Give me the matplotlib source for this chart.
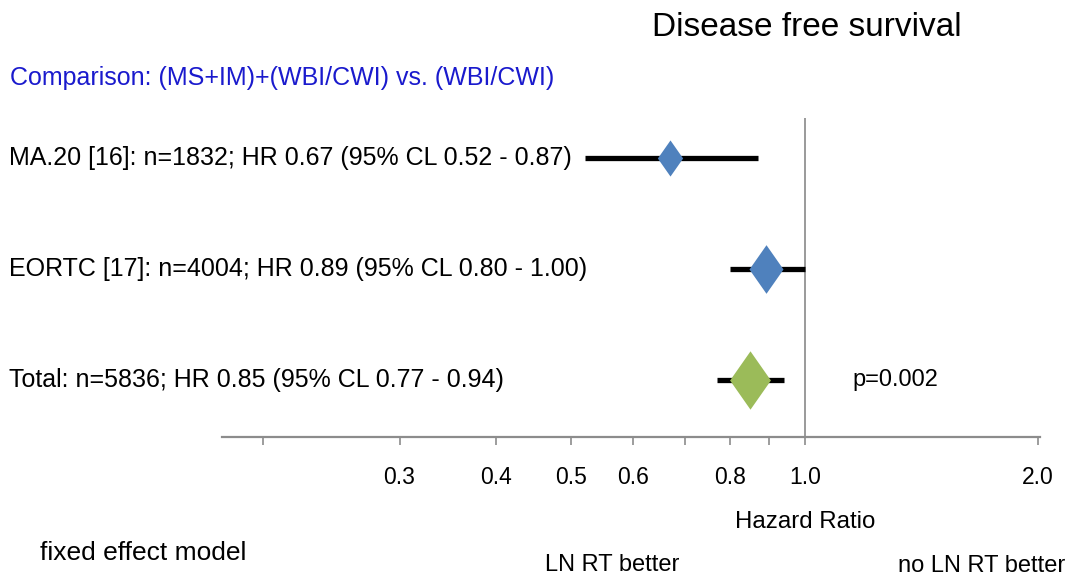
import numpy as np
import matplotlib
matplotlib.use('Agg')
import matplotlib.pyplot as plt
from matplotlib.transforms import blended_transform_factory

plt.rcParams['font.family'] = ['Liberation Sans', 'DejaVu Sans']

# Data
studies   = ['MA.20 [16]', 'EORTC [17]', 'Total']
n_pts     = [1832, 4004, 5836]
hr        = [0.67, 0.89, 0.85]
ci_low    = [0.52, 0.80, 0.77]
ci_high   = [0.87, 1.00, 0.94]
p_total   = '0.002'

tick_vals   = [0.2, 0.3, 0.4, 0.5, 0.6, 0.7, 0.8, 0.9, 1.0, 2.0]
tick_labels = ['', '0.3', '0.4', '0.5', '0.6', '', '0.8', '', '1.0', '2.0']

# Style
W, H = 1071, 582
diamond_h   = [26, 35, 42]          # marker height in pt
diamond_col = ['#4f81bd', '#4f81bd', '#9bbb59']
DIAMOND = [(0, 1), (0.7, 0), (0, -1), (-0.7, 0), (0, 1)]

fig = plt.figure(figsize=(W / 100, H / 100), dpi=100)
fig.patch.set_facecolor('white')

def fx(px):
    return px / W

def fy(py):
    return 1 - py / H

ax = fig.add_axes([fx(222), fy(437), fx(1040) - fx(222), fy(118) - fy(437)])
ax.set_xscale('log')
ax.set_xlim(0.177, 2.012)
ax.set_ylim(-0.514, 2.36)

ypos = np.arange(len(studies))[::-1]   # top row first

for i, y in enumerate(ypos):
    ax.plot([ci_low[i], ci_high[i]], [y, y], color='black', lw=3.8,
            solid_capstyle='butt', zorder=2)
    ax.plot(hr[i], y, marker=DIAMOND, markersize=diamond_h[i],
            color=diamond_col[i], markeredgewidth=0, zorder=3)

ax.axvline(1.0, color='#7f7f7f', lw=1.1, zorder=1)

# axis styling
for s in ['top', 'right', 'left']:
    ax.spines[s].set_visible(False)
ax.spines['bottom'].set_color('#8c8c8c')
ax.spines['bottom'].set_linewidth(1.6)
ax.set_yticks([])
ax.xaxis.set_minor_locator(matplotlib.ticker.NullLocator())
ax.set_xticks(tick_vals)
ax.set_xticklabels(tick_labels, fontsize=16.5)
ax.tick_params(axis='x', direction='out', length=6, width=1.2,
               color='#8c8c8c', pad=15)

# row labels
trans = blended_transform_factory(fig.transFigure, ax.transData)
for i, y in enumerate(ypos):
    if studies[i] == 'Total':
        lab = f'Total: n={n_pts[i]}; HR {hr[i]:.2f} (95% CL {ci_low[i]:.2f} - {ci_high[i]:.2f})'
    else:
        lab = f'{studies[i]}: n={n_pts[i]}; HR {hr[i]:.2f} (95% CL {ci_low[i]:.2f} - {ci_high[i]:.2f})'
    ax.text(fx(9), y, lab, transform=trans, fontsize=18,
            ha='left', va='center', color='black')

ax.text(fx(852), ypos[-1], f'p={p_total}', transform=trans, fontsize=17,
        ha='left', va='center')

# titles and captions
fig.text(fx(807), fy(28), 'Disease free survival', fontsize=24,
         ha='center', va='center')
fig.text(fx(10), fy(78), 'Comparison: (MS+IM)+(WBI/CWI) vs. (WBI/CWI)',
         fontsize=18, color='#1a1acd', ha='left', va='center')
fig.text(fx(805), fy(522), 'Hazard Ratio', fontsize=17.3, ha='center', va='center')
fig.text(fx(40), fy(553), 'fixed effect model', fontsize=19, ha='left', va='center')
fig.text(fx(612), fy(565), 'LN RT better', fontsize=17, ha='center', va='center')
fig.text(fx(982), fy(566), 'no LN RT better', fontsize=17, ha='center', va='center')

fig.savefig('out.png', dpi=100, facecolor='white')
